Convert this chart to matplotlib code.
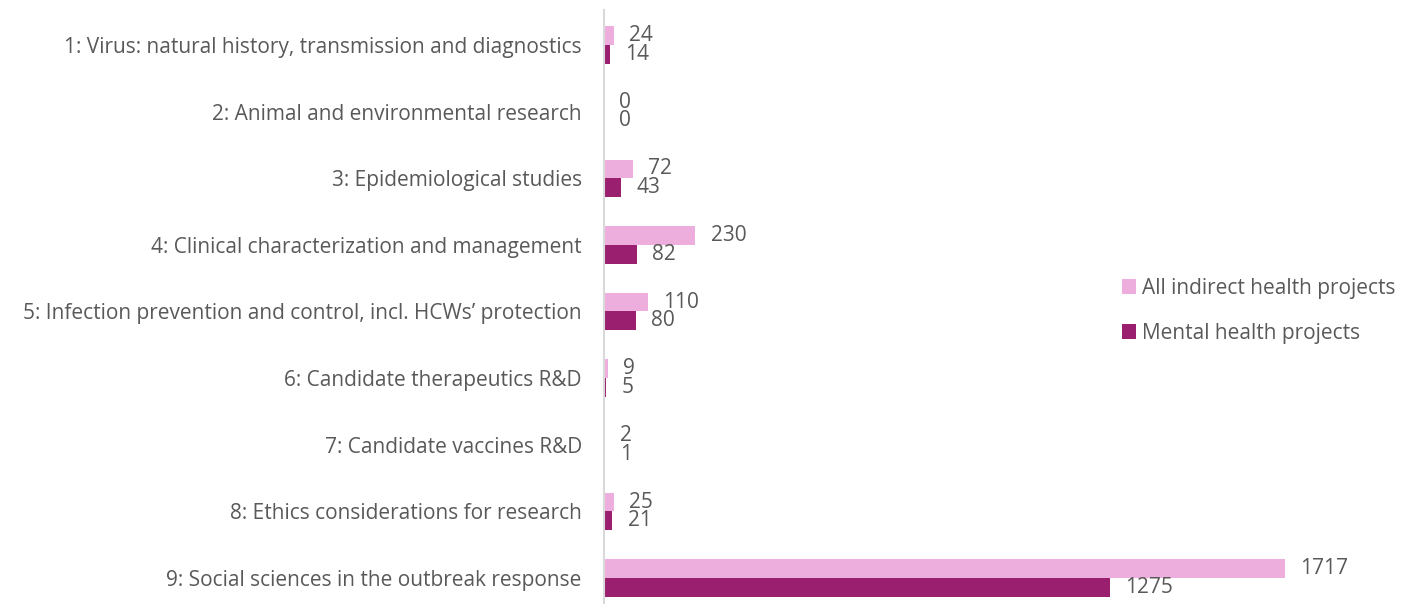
import matplotlib
matplotlib.use("Agg")
import matplotlib.pyplot as plt
import numpy as np

categories = [
    "1: Virus: natural history, transmission and diagnostics",
    "2: Animal and environmental research",
    "3: Epidemiological studies",
    "4: Clinical characterization and management",
    "5: Infection prevention and control, incl. HCWs\u2019 protection",
    "6: Candidate therapeutics R&D",
    "7: Candidate vaccines R&D",
    "8: Ethics considerations for research",
    "9: Social sciences in the outbreak response",
]
all_indirect = [24, 0, 72, 230, 110, 9, 2, 25, 1717]
mental = [14, 0, 43, 82, 80, 5, 1, 21, 1275]

light = "#EEAEDD"
dark = "#9B1F6F"
text_col = "#595959"

plt.rcParams["font.family"] = ["Open Sans", "DejaVu Sans"]

fig = plt.figure(figsize=(14.02, 6.04), dpi=100)
ax = fig.add_axes([604 / 1402, 0, 714 / 1402, 594 / 604])

y = np.arange(len(categories))
h = 0.28
b1 = ax.barh(y - h / 2, all_indirect, height=h, color=light, label="All indirect health projects")
b2 = ax.barh(y + h / 2, mental, height=h, color=dark, label="Mental health projects")

# value labels just past the end of each bar
for bars, vals in [(b1, all_indirect), (b2, mental)]:
    for rect, v in zip(bars, vals):
        ax.annotate(str(v), (rect.get_width(), rect.get_y() + rect.get_height() / 2),
                    xytext=(11, 0), textcoords="offset points", va="center", ha="left",
                    fontsize=15, color=text_col)

ax.set_xlim(0, 1800)
ax.set_ylim(8.39, -0.525)
ax.set_yticks(y)
ax.set_yticklabels(categories, fontsize=15, color=text_col)
ax.tick_params(axis="y", length=0, pad=16)
ax.set_xticks([])
for s in ["top", "right", "bottom"]:
    ax.spines[s].set_visible(False)
ax.spines["left"].set_color("#D9D9D9")
ax.spines["left"].set_linewidth(1.5)

fig.legend(handles=[b1, b2], loc="center left", bbox_to_anchor=(1103 / 1402, 1 - 311 / 604),
           frameon=False, fontsize=15, labelcolor=text_col, handlelength=0.7, handleheight=0.7,
           handletextpad=0.25, labelspacing=1.15)

fig.savefig("out.png", dpi=100)
